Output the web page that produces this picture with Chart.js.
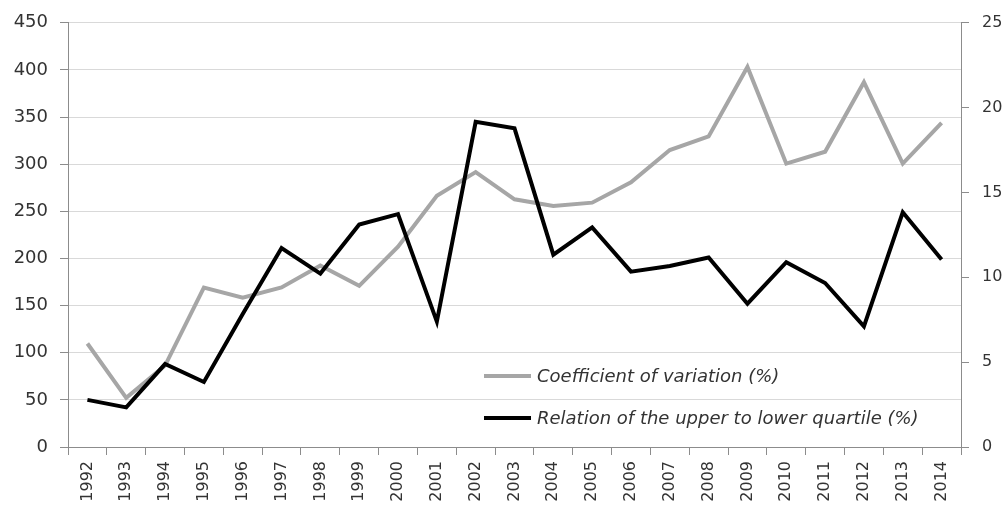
<!DOCTYPE html>
<html>
<head>
<meta charset="utf-8">
<script src="https://cdn.jsdelivr.net/npm/chart.js@4/dist/chart.umd.min.js"></script>
<style>
  html, body { margin: 0; padding: 0; background: #fff; }
  #wrap { width: 1008px; height: 508px; }
</style>
</head>
<body>
<div id="wrap"><canvas id="chart" width="1008" height="508"></canvas></div>
<script>
// Years on the x axis
const years = ['1992', '1993', '1994', '1995', '1996', '1997', '1998', '1999', '2000', '2001', '2002', '2003',
    '2004', '2005', '2006', '2007', '2008', '2009', '2010', '2011', '2012', '2013', '2014'];

// Coefficient of variation (%), right axis 0-25
const coefVariation = [6.1, 2.9, 4.8, 9.4, 8.8, 9.4, 10.7, 9.5, 11.8, 14.8, 16.2, 14.6,
    14.2, 14.4, 15.6, 17.5, 18.3, 22.4, 16.7, 17.4, 21.5, 16.7, 19.1];

// Relation of the upper to lower quartile (%), left axis 0-450
const quartileRelation = [50, 42, 88, 69, 141, 211, 184, 236, 247, 133, 345, 338,
    204, 233, 186, 192, 201, 152, 196, 174, 128, 249, 199];

const labelCV = 'Coefficient of variation (%)';
const labelQR = 'Relation of the upper to lower quartile (%)';

const AXIS_COLOR = '#8c8c8c';
const GRID_COLOR = '#d9d9d9';
const TEXT_COLOR = '#333333';

/**
 * Legend drawn inside the plot area, bottom right (Excel style)
 */
const insideLegend = {
    id: 'insideLegend',
    afterDatasetsDraw(chart) {
        const { ctx, chartArea } = chart;
        const x0 = chartArea.left + 416;
        const rows = [chartArea.bottom - 71, chartArea.bottom - 29];
        ctx.save();
        ctx.font = 'italic 18px "DejaVu Sans"';
        ctx.textBaseline = 'middle';
        ctx.textAlign = 'left';
        chart.data.datasets.forEach((ds, i) => {
            const y = rows[i];
            ctx.strokeStyle = ds.borderColor;
            ctx.lineWidth = 4;
            ctx.beginPath();
            ctx.moveTo(x0, y);
            ctx.lineTo(x0 + 47, y);
            ctx.stroke();
            ctx.fillStyle = TEXT_COLOR;
            ctx.fillText(ds.label, x0 + 53, y + 1);
        });
        ctx.restore();
    }
};

new Chart(document.getElementById('chart'), {
    type: 'line',
    data: {
        labels: years,
        datasets: [
            {
                label: labelCV,
                data: coefVariation,
                yAxisID: 'y1',
                borderColor: '#a6a6a6',
                borderWidth: 4,
                pointRadius: 0,
                tension: 0,
                order: 2
            },
            {
                label: labelQR,
                data: quartileRelation,
                yAxisID: 'y',
                borderColor: '#000000',
                borderWidth: 4,
                pointRadius: 0,
                tension: 0,
                order: 1
            }
        ]
    },
    options: {
        responsive: false,
        animation: false,
        layout: { padding: { top: 6, left: 0, right: 0, bottom: 0 } },
        plugins: {
            legend: { display: false },
            tooltip: { enabled: false }
        },
        scales: {
            x: {
                offset: true,
                grid: {
                    offset: true,
                    drawOnChartArea: false,
                    drawTicks: true,
                    tickLength: 8,
                    tickColor: AXIS_COLOR
                },
                border: { color: AXIS_COLOR, width: 1 },
                ticks: {
                    minRotation: 90,
                    maxRotation: 90,
                    padding: 6,
                    color: TEXT_COLOR,
                    font: { family: '"DejaVu Sans"', size: 16 }
                },
                afterFit: (scale) => { scale.height = 61; }
            },
            y: {
                position: 'left',
                min: 0,
                max: 450,
                ticks: {
                    stepSize: 50,
                    padding: 12,
                    color: TEXT_COLOR,
                    font: { family: '"DejaVu Sans"', size: 18 }
                },
                grid: {
                    color: GRID_COLOR,
                    tickColor: AXIS_COLOR,
                    tickLength: 8,
                    lineWidth: 1
                },
                border: { color: AXIS_COLOR, width: 1 },
                afterFit: (scale) => { scale.width = 68; }
            },
            y1: {
                position: 'right',
                min: 0,
                max: 25,
                ticks: {
                    stepSize: 5,
                    padding: 13,
                    color: TEXT_COLOR,
                    font: { family: '"DejaVu Sans"', size: 16 }
                },
                grid: {
                    drawOnChartArea: false,
                    tickColor: AXIS_COLOR,
                    tickLength: 8
                },
                border: { color: AXIS_COLOR, width: 1 },
                afterFit: (scale) => { scale.width = 47; }
            }
        }
    },
    plugins: [insideLegend]
});
</script>
</body>
</html>
